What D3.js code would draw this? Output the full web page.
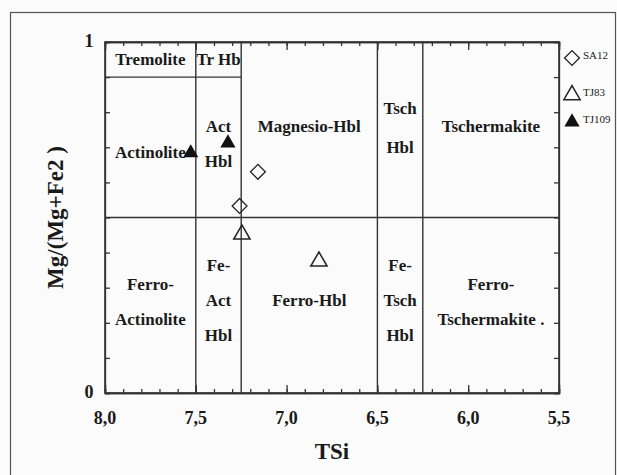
<!DOCTYPE html>
<html>
<head>
<meta charset="utf-8">
<script src="https://cdn.jsdelivr.net/npm/d3@7"></script>
<style>
  body { margin: 0; background: #fbfbfb; }
  svg { display: block; }
  .axis path, .axis line { stroke: #333; stroke-width: 1.3; }
</style>
</head>
<body>
<svg id="chart" width="617" height="475"></svg>
<script>
// x ticks (TSi), labels with comma decimals
let xMajor = [8.0, 7.5, 7.0, 6.5, 6.0, 5.5]
let xLabels = ['8,0', '7,5', '7,0', '6,5', '6,0', '5,5']
let yLabels = ['0', '1']

// field boundaries
let vLines = [[7.5, 0, 1], [7.25, 0, 1], [6.5, 0, 1], [6.25, 0, 1]]
let hLines = [[8.0, 7.25, 0.9], [8.0, 5.5, 0.5]]

// field names: [x, y, text]
let fieldNames = [
    [7.75, 0.945, 'Tremolite'],
    [7.375, 0.945, 'Tr Hb'],
    [7.75, 0.68, 'Actinolite'],
    [7.375, 0.755, 'Act'],
    [7.375, 0.655, 'Hbl'],
    [6.875, 0.755, 'Magnesio-Hbl'],
    [6.375, 0.805, 'Tsch'],
    [6.375, 0.695, 'Hbl'],
    [5.875, 0.755, 'Tschermakite'],
    [7.75, 0.305, 'Ferro-'],
    [7.75, 0.205, 'Actinolite'],
    [7.375, 0.36, 'Fe-'],
    [7.375, 0.26, 'Act'],
    [7.375, 0.16, 'Hbl'],
    [6.875, 0.26, 'Ferro-Hbl'],
    [6.375, 0.36, 'Fe-'],
    [6.375, 0.26, 'Tsch'],
    [6.375, 0.16, 'Hbl'],
    [5.875, 0.305, 'Ferro-'],
    [5.875, 0.205, 'Tschermakite .']
]

// samples
let sa12X = [7.158, 7.259]
let sa12Y = [0.630, 0.533]
let tj83X = [7.246, 6.822]
let tj83Y = [0.452, 0.375]
let tj109X = [7.528, 7.323]
let tj109Y = [0.684, 0.712]
let seriesNames = ['SA12', 'TJ83', 'TJ109']

let serif = '"Liberation Serif", "Times New Roman", Times, "DejaVu Serif", serif'
let svg = d3.select('#chart')
let mLeft = 105, mRight = 559, mTop = 42, mBottom = 393

let xScale = d3.scaleLinear().domain([8.0, 5.5]).range([mLeft, mRight])
let yScale = d3.scaleLinear().domain([0, 1]).range([mBottom, mTop])

//outer frame
svg.append('rect')
    .attr('x', 10.5).attr('y', 12.5)
    .attr('width', 605).attr('height', 470)
    .attr('fill', 'none').attr('stroke', '#555').attr('stroke-width', 1.2)

let minorX = d3.range(0, 26).map(i => 8.0 - i * 0.1)
let minorY = d3.range(0, 11).map(i => i * 0.1)

function tickAxis(axisFn, scale, vals, size, transform) {
    svg.append('g')
        .attr('class', 'axis')
        .attr('transform', transform)
        .call(axisFn(scale).tickValues(vals).tickSize(size).tickFormat(''))
}
//minor ticks inward
tickAxis(d3.axisBottom, xScale, minorX, -4, `translate(0, ${mBottom})`)
tickAxis(d3.axisBottom, xScale, xMajor, -8, `translate(0, ${mBottom})`)
tickAxis(d3.axisTop, xScale, minorX, -4, `translate(0, ${mTop})`)
tickAxis(d3.axisTop, xScale, xMajor, -8, `translate(0, ${mTop})`)
tickAxis(d3.axisLeft, yScale, minorY, -5, `translate(${mLeft}, 0)`)
tickAxis(d3.axisRight, yScale, minorY, -5, `translate(${mRight}, 0)`)

function label(sel, size) {
    return sel.attr('font-family', serif)
        .attr('font-weight', 'bold')
        .attr('font-size', size)
        .attr('fill', '#1a1a1a')
}

//x tick labels
svg.selectAll('.xlab')
    .data(xMajor)
    .enter()
    .append('text')
    .attr('x', d => xScale(d))
    .attr('y', 424)
    .attr('text-anchor', 'middle')
    .call(label, 18)
    .text((d, i) => xLabels[i])
//y tick labels
svg.selectAll('.ylab')
    .data(yLabels)
    .enter()
    .append('text')
    .attr('x', 89)
    .attr('y', d => yScale(+d) + 5)
    .attr('text-anchor', 'middle')
    .call(label, 18)
    .text(d => d)

//field lines
svg.selectAll('.vline')
    .data(vLines)
    .enter()
    .append('line')
    .attr('x1', d => xScale(d[0])).attr('x2', d => xScale(d[0]))
    .attr('y1', d => yScale(d[1])).attr('y2', d => yScale(d[2]))
    .attr('stroke', '#333').attr('stroke-width', 1.4)
svg.selectAll('.hline')
    .data(hLines)
    .enter()
    .append('line')
    .attr('x1', d => xScale(d[0])).attr('x2', d => xScale(d[1]))
    .attr('y1', d => yScale(d[2])).attr('y2', d => yScale(d[2]))
    .attr('stroke', '#333').attr('stroke-width', 1.4)

//frame of plot
svg.append('rect')
    .attr('x', mLeft).attr('y', mTop)
    .attr('width', mRight - mLeft).attr('height', mBottom - mTop)
    .attr('fill', 'none').attr('stroke', '#333').attr('stroke-width', 1.6)

//field names
svg.selectAll('.field')
    .data(fieldNames)
    .enter()
    .append('text')
    .attr('x', d => xScale(d[0]))
    .attr('y', d => yScale(d[1]))
    .attr('text-anchor', 'middle')
    .attr('dominant-baseline', 'middle')
    .call(label, 17)
    .text(d => d[2])

//axis titles
svg.append('text')
    .attr('x', (mLeft + mRight) / 2)
    .attr('y', 459)
    .attr('text-anchor', 'middle')
    .call(label, 23)
    .text('TSi')
svg.append('g')
    .attr('transform', `translate(63, ${(mTop + mBottom) / 2}) rotate(270)`)
    .append('text')
    .attr('text-anchor', 'middle')
    .call(label, 23)
    .text('Mg/(Mg+Fe2 )')

//markers
let diamond = d3.symbol().type(d3.symbolSquare).size(110)
let openTri = d3.symbol().type(d3.symbolTriangle).size(115)
let fullTri = d3.symbol().type(d3.symbolTriangle).size(100)

svg.selectAll('.sa12')
    .data(sa12X)
    .enter()
    .append('path')
    .attr('d', diamond)
    .attr('transform', (d, i) => `translate(${xScale(d)}, ${yScale(sa12Y[i])}) rotate(45)`)
    .attr('fill', 'none').attr('stroke', '#222').attr('stroke-width', 1.3)
svg.selectAll('.tj83')
    .data(tj83X)
    .enter()
    .append('path')
    .attr('d', openTri)
    .attr('transform', (d, i) => `translate(${xScale(d)}, ${yScale(tj83Y[i])})`)
    .attr('fill', 'none').attr('stroke', '#222').attr('stroke-width', 1.5)
svg.selectAll('.tj109')
    .data(tj109X)
    .enter()
    .append('path')
    .attr('d', fullTri)
    .attr('transform', (d, i) => `translate(${xScale(d)}, ${yScale(tj109Y[i])})`)
    .attr('fill', '#111')

//legend
let legY = [58, 95, 122]
svg.append('path')
    .attr('d', diamond)
    .attr('transform', `translate(572, ${legY[0]}) rotate(45)`)
    .attr('fill', 'none').attr('stroke', '#222').attr('stroke-width', 1.3)
svg.append('path')
    .attr('d', openTri)
    .attr('transform', `translate(572, ${legY[1]})`)
    .attr('fill', 'none').attr('stroke', '#222').attr('stroke-width', 1.5)
svg.append('path')
    .attr('d', fullTri)
    .attr('transform', `translate(572, ${legY[2]})`)
    .attr('fill', '#111')
svg.selectAll('.legtext')
    .data(seriesNames)
    .enter()
    .append('text')
    .attr('x', 583)
    .attr('y', (d, i) => legY[i] - 2)
    .attr('dominant-baseline', 'middle')
    .attr('font-family', serif)
    .attr('font-size', 11)
    .attr('fill', '#222')
    .text(d => d)
</script>
</body>
</html>
